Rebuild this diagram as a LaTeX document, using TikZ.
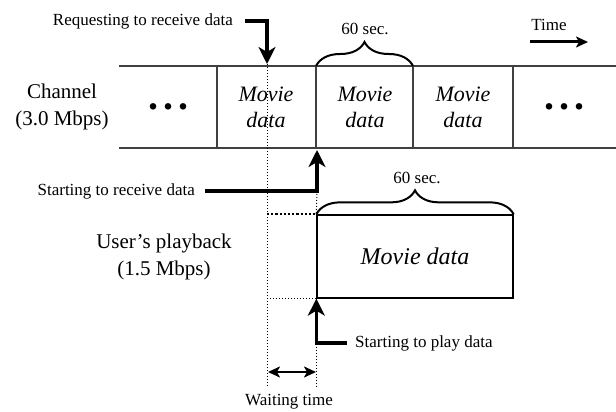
\documentclass[tikz,border=0pt]{standalone}
\usepackage{fontspec}
\setmainfont{Liberation Serif}
\usetikzlibrary{positioning,arrows.meta,decorations.pathreplacing}

\begin{document}
\begin{tikzpicture}[x=1pt, y=-1pt, >={Stealth[length=17pt,width=17pt,inset=5pt]},
  small text/.style={font=\fontsize{17}{20}\selectfont, inner sep=0pt},
  side text/.style={font=\fontsize{21}{27}\selectfont, align=center, inner sep=0pt},
  cell text/.style={font=\fontsize{22}{26}\selectfont\itshape, align=center, inner sep=0pt},
  dots text/.style={font=\fontsize{40}{40}\selectfont\bfseries, inner sep=0pt},
  band/.style={draw=black!75, line width=1.3pt},
  pointer/.style={->, line width=3.5pt},
  thin arrow/.style={line width=2pt, >={Stealth[length=12pt,width=11pt,inset=3pt]}},
  guide/.style={dotted, line width=1pt},
  sec brace/.style={decorate, decoration={brace, amplitude=24pt}, line width=2pt}]

\useasboundingbox (0,0) rectangle (616,412);

% channel band
\draw[band] (119,66) -- (616,66) (119,148) -- (616,148);
\foreach \x in {217,316,413,513}
  \draw[band] (\x,66) -- (\x,148);

\node[side text] (channel) at (62,107) {Channel\\(3.0 Mbps)};
\node[dots text] (dots-1) at (168,107) {.\hspace{5pt}.\hspace{5pt}.};
\node[dots text] (dots-2) at (564,107) {.\hspace{5pt}.\hspace{5pt}.};
\foreach \x [count=\i] in {266,365,463}
  \node[cell text] (cell-\i) at (\x,107) {Movie\\data};

% time axis
\node[small text] (time) at (549,25) {Time};
\coordinate (time-start) at (530,42);
\coordinate (time-end) at (588,42);
\draw[->, thin arrow, line width=3pt] (time-start) -- (time-end);

% request
\node[small text, anchor=east] (request) at (233,21) {Requesting to receive data};
\coordinate (request-tip) at (267,64);
\draw[pointer] ([xshift=12pt]request.east) -| (request-tip);

\draw[sec brace] (316,66) -- (413,66);
\node[small text] (sec-1) at (365,29) {60 sec.};

% playback
\node[side text] (user) at (164,257) {User's playback\\(1.5 Mbps)};
\node[draw, line width=1.3pt, minimum width=196pt, minimum height=83pt,
  font=\fontsize{24}{28}\selectfont\itshape] (playback) at (415,256.5) {Movie data};

\draw[sec brace] (playback.north west) -- (playback.north east);
\node[small text] (sec-2) at (417,178) {60 sec.};

\node[small text, anchor=east] (receive) at (195,191) {Starting to receive data};
\coordinate (receive-tip) at (317,150);
\draw[pointer] ([xshift=10pt]receive.east) -| (receive-tip);

\node[small text, anchor=west] (play) at (355,343) {Starting to play data};
\draw[pointer] ([xshift=-8pt]play.west) -| (playback.south west);

% guides
\coordinate (guide-end) at (267,387);
\draw[guide] (request-tip) -- (guide-end);
\draw[guide] (receive-tip |- receive.east) -- (playback.north west);
\draw[guide] (playback.south west) -- (playback.south west |- guide-end);
\draw[guide, line width=2.2pt] (request-tip |- playback.north west) -- (playback.north west);
\draw[guide] (request-tip |- playback.south west) -- (playback.south west);

% waiting time
\coordinate (wait-left) at (268,372);
\coordinate (wait-right) at (316,372);
\draw[<->, thin arrow] (wait-left) -- (wait-right);
\node[small text] (wait) at (289,402) {Waiting time};
\end{tikzpicture}
\end{document}
